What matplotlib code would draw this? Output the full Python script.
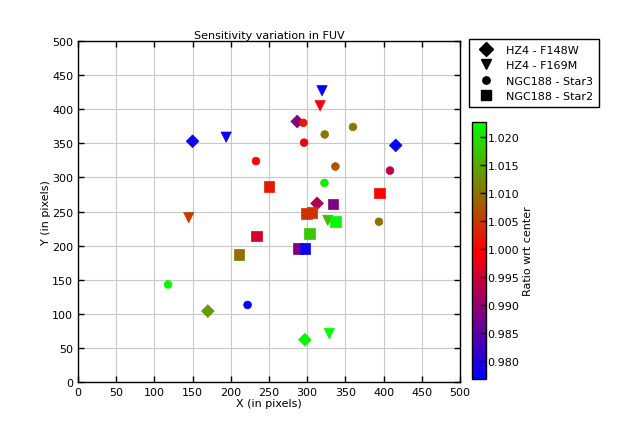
import matplotlib
matplotlib.use('Agg')
import matplotlib.pyplot as plt
from matplotlib.lines import Line2D
import numpy as np

plt.rcParams['font.family'] = 'DejaVu Sans'
plt.rcParams['font.size'] = 8

# HZ4 - F148W (diamonds)
hz4_148_x = [150, 170, 287, 297, 313, 416]
hz4_148_y = [353, 104, 382, 62, 262, 347]
hz4_148_r = [0.978, 1.0135, 0.9887, 1.022, 0.9923, 0.9775]

# HZ4 - F169M (triangles)
hz4_169_x = [145, 194, 319.5, 317, 327, 329]
hz4_169_y = [241, 359, 427, 405, 237, 71]
hz4_169_r = [1.005, 0.978, 0.977, 0.999, 1.0165, 1.0225]

# NGC188 - Star3 (circles)
star3_x = [118, 222, 233, 295, 296, 323, 322.6, 337, 360, 394, 408.5]
star3_y = [143, 113, 324, 380, 351, 363, 292, 316, 374, 235, 310]
star3_r = [1.022, 0.977, 0.9995, 1.002, 0.998, 1.0105, 1.021, 1.007, 1.0105, 1.0095, 0.994]

# NGC188 - Star2 (squares)
star2_x = [211, 234, 250, 288, 297, 299.5, 306.5, 303, 334, 337, 394.5]
star2_y = [187, 214, 287, 196, 196, 247, 249, 218, 261, 235, 277]
star2_r = [1.0095, 0.996, 1.002, 0.988, 0.978, 1.004, 1.004, 1.0175, 0.988, 1.022, 1.0]

vmin, vmax = 0.9767, 1.0227

fig = plt.figure(figsize=(6.3, 4.27), dpi=100)
ax = fig.add_axes([0.1238, 0.103, 0.6062, 0.7986])

series = [
    (hz4_148_x, hz4_148_y, hz4_148_r, 'D', 42),
    (hz4_169_x, hz4_169_y, hz4_169_r, 'v', 55),
    (star3_x, star3_y, star3_r, 'o', 31),
    (star2_x, star2_y, star2_r, 's', 59),
]
for x, y, r, m, s in series:
    sc = ax.scatter(x, y, c=r, cmap='brg', vmin=vmin, vmax=vmax, marker=m, s=s,
                    edgecolors='face', linewidths=0.5, zorder=3)

ax.set_xlim(0, 500)
ax.set_ylim(0, 500)
ax.set_xticks(np.arange(0, 501, 50))
ax.set_yticks(np.arange(0, 501, 50))
ax.tick_params(direction='in', length=4, top=True, right=True, width=1)
ax.grid(True, color='#c8c8c8', linewidth=0.8, linestyle='-')
ax.set_axisbelow(True)
for sp in ax.spines.values():
    sp.set_linewidth(1)
ax.set_xlabel('X (in pixels)', labelpad=1)
ax.set_ylabel('Y (in pixels)', labelpad=1)
ax.set_title('Sensitivity variation in FUV', fontsize=8, pad=2)

handles = [
    Line2D([], [], marker='D', color='k', linestyle='None', markersize=7.1),
    Line2D([], [], marker='v', color='k', linestyle='None', markersize=6.7),
    Line2D([], [], marker='o', color='k', linestyle='None', markersize=5.3),
    Line2D([], [], marker='s', color='k', linestyle='None', markersize=6.7),
]
labels = ['HZ4 - F148W', 'HZ4 - F169M', 'NGC188 - Star3', 'NGC188 - Star2']
leg = fig.legend(handles, labels, loc='upper left', bbox_to_anchor=(469 / 630, 1 - 40 / 427),
                 fancybox=False, edgecolor='k', framealpha=1, fontsize=8,
                 borderaxespad=0, handletextpad=0.84, labelspacing=0.5,
                 borderpad=0.5, handlelength=2.0)
leg.get_frame().set_linewidth(1)

cax = fig.add_axes([472 / 630, 0.110, 14 / 630, 0.602])
cb = fig.colorbar(sc, cax=cax, ticks=np.arange(0.980, 1.0201, 0.005), format='%.3f')
cb.ax.tick_params(direction='in', length=4, width=1, labelsize=8, pad=1)
cb.set_label('Ratio wrt center', fontsize=8, labelpad=3)
cb.outline.set_linewidth(1)

fig.savefig('out.png', dpi=100)
